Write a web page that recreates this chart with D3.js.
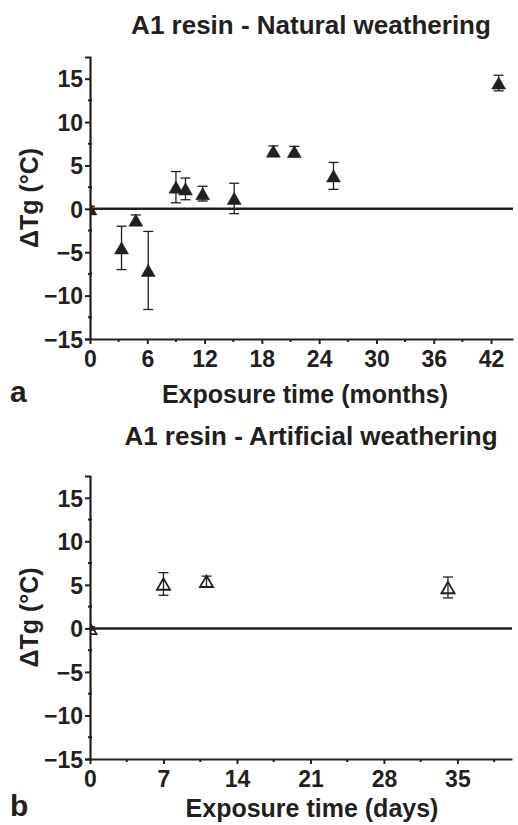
<!DOCTYPE html>
<html>
<head>
<meta charset="utf-8">
<script src="https://cdn.jsdelivr.net/npm/d3@7"></script>
<style>
  body { margin: 0; background: #fff; }
  svg { display: block; font-family: "Liberation Sans", Arial, sans-serif; }
</style>
</head>
<body>
<div id="chart"></div>
<script>
// natural weathering (months)
const natMonths = [0, 3.3, 4.8, 6.1, 9.0, 10.0, 11.8, 15.1, 19.2, 21.4, 25.5, 42.8];
const natDeltaTg = [0, -4.5, -1.3, -7.1, 2.5, 2.3, 1.75, 1.2, 6.65, 6.6, 3.8, 14.5];
const natErr = [0.3, 2.5, 0.6, 4.5, 1.8, 1.25, 0.85, 1.75, 0.6, 0.6, 1.55, 0.9];

// artificial weathering (days)
const artDays = [0, 7.0, 11.1, 34.1];
const artDeltaTg = [0, 5.1, 5.4, 4.7];
const artErr = [0.2, 1.3, 0.6, 1.2];

const natTicks = [0, 6, 12, 18, 24, 30, 36, 42];
const artTicks = [0, 7, 14, 21, 28, 35];
const yTicks = [-15, -10, -5, 0, 5, 10, 15];

const width = 518, height = 825;

const svg = d3.select("#chart").append("svg")
    .attr("width", width)
    .attr("height", height);

function drawPanel(opts) {
    const x = d3.scaleLinear().domain(opts.xDomain).range([90, opts.right]);
    const y = d3.scaleLinear().domain([-15, 17.5]).range([opts.bottom, opts.top]);

    const g = svg.append("g");

    // title
    g.append("text")
        .attr("x", 311)
        .attr("y", opts.titleY)
        .attr("text-anchor", "middle")
        .style("font-size", "26px")
        .style("font-weight", "bold")
        .attr("fill", "#231f20")
        .text(opts.title);

    // minor ticks
    const minorX = d3.range(opts.minorStep, opts.xDomain[1], opts.minorStep * 2);
    g.append("g").selectAll("line")
        .data(minorX)
        .join("line")
        .attr("x1", d => x(d)).attr("x2", d => x(d))
        .attr("y1", opts.bottom).attr("y2", opts.bottom + 3)
        .attr("stroke", "#231f20").attr("stroke-width", 2);

    const minorY = d3.range(-12.5, 17.5, 5);
    g.append("g").selectAll("line")
        .data(minorY)
        .join("line")
        .attr("x1", 88).attr("x2", 92)
        .attr("y1", d => y(d)).attr("y2", d => y(d))
        .attr("stroke", "#231f20").attr("stroke-width", 2);

    // axes
    const xAxis = g.append("g")
        .attr("transform", `translate(0,${opts.bottom})`)
        .call(d3.axisBottom(x).tickValues(opts.xTicks).tickSize(5).tickSizeOuter(0).tickPadding(6));

    const yAxis = g.append("g")
        .attr("transform", "translate(90,0)")
        .call(d3.axisLeft(y).tickValues(yTicks).tickSize(5).tickPadding(2));

    [xAxis, yAxis].forEach(a => {
        a.select(".domain").attr("stroke", "#231f20").attr("stroke-width", 2.2);
        a.selectAll(".tick line").attr("stroke", "#231f20").attr("stroke-width", 2);
        a.selectAll(".tick text")
            .attr("fill", "#231f20")
            .style("font-size", "23px")
            .style("font-weight", "bold");
    });
    yAxis.selectAll(".tick text").attr("dy", "0.36em");
    xAxis.selectAll(".tick text").attr("dy", "0.72em");

    // zero line
    g.append("line")
        .attr("x1", x(0)).attr("x2", opts.right)
        .attr("y1", y(0)).attr("y2", y(0))
        .attr("stroke", "#231f20")
        .attr("stroke-width", 2.5);

    // axis labels
    g.append("text")
        .attr("x", opts.xLabelX)
        .attr("y", opts.bottom + opts.labelGap)
        .attr("text-anchor", "middle")
        .style("font-size", "25px")
        .style("font-weight", "bold")
        .attr("fill", "#231f20")
        .text(opts.xLabel);

    g.append("text")
        .attr("transform", "rotate(-90)")
        .attr("x", -(opts.top + opts.bottom) / 2)
        .attr("y", 38)
        .attr("text-anchor", "middle")
        .style("font-size", "25px")
        .style("font-weight", "bold")
        .attr("fill", "#231f20")
        .text("ΔTg (°C)");

    g.append("text")
        .attr("x", 10)
        .attr("y", opts.bottom + opts.labelGap - 1)
        .style("font-size", "30px")
        .style("font-weight", "bold")
        .attr("fill", "#231f20")
        .text(opts.letter);

    // clip markers to plot area
    const clipId = "clip-" + opts.letter;
    svg.append("clipPath").attr("id", clipId)
        .append("rect")
        .attr("x", 91).attr("y", opts.top - 10)
        .attr("width", opts.right - 91).attr("height", opts.bottom - opts.top + 10);

    const pts = opts.xs.map((v, i) => ({ x: v, y: opts.ys[i], e: opts.errs[i] }));
    const plot = g.append("g").attr("clip-path", `url(#${clipId})`);

    // error bars
    const eb = plot.append("g").attr("stroke", "#231f20").attr("stroke-width", 1.3);
    pts.forEach(d => {
        eb.append("line")
            .attr("x1", x(d.x)).attr("x2", x(d.x))
            .attr("y1", y(d.y - d.e)).attr("y2", y(d.y + d.e));
        [d.y - d.e, d.y + d.e].forEach(v => {
            eb.append("line")
                .attr("x1", x(d.x) - 5).attr("x2", x(d.x) + 5)
                .attr("y1", y(v)).attr("y2", y(v));
        });
    });

    // triangle markers
    const tri = d3.symbol().type(d3.symbolTriangle).size(opts.filled ? 85 : 75);
    plot.append("g").selectAll("path")
        .data(pts)
        .join("path")
        .attr("d", tri)
        .attr("transform", d => `translate(${x(d.x)},${y(d.y) + 2})`)
        .attr("fill", opts.filled ? "#231f20" : "none")
        .attr("stroke", "#231f20")
        .attr("stroke-width", opts.filled ? 0.5 : 1.8);
}

drawPanel({
    title: "A1 resin - Natural weathering",
    titleY: 34,
    top: 57, bottom: 339, right: 513,
    xDomain: [0, 44.3], xTicks: natTicks, minorStep: 3,
    xLabel: "Exposure time (months)", xLabelX: 305, labelGap: 64,
    letter: "a",
    xs: natMonths, ys: natDeltaTg, errs: natErr,
    filled: true
});

drawPanel({
    title: "A1 resin - Artificial weathering",
    titleY: 445,
    top: 476, bottom: 759, right: 512,
    xDomain: [0, 40.2], xTicks: artTicks, minorStep: 3.5,
    xLabel: "Exposure time (days)", xLabelX: 312, labelGap: 58,
    letter: "b",
    xs: artDays, ys: artDeltaTg, errs: artErr,
    filled: false
});
</script>
</body>
</html>
